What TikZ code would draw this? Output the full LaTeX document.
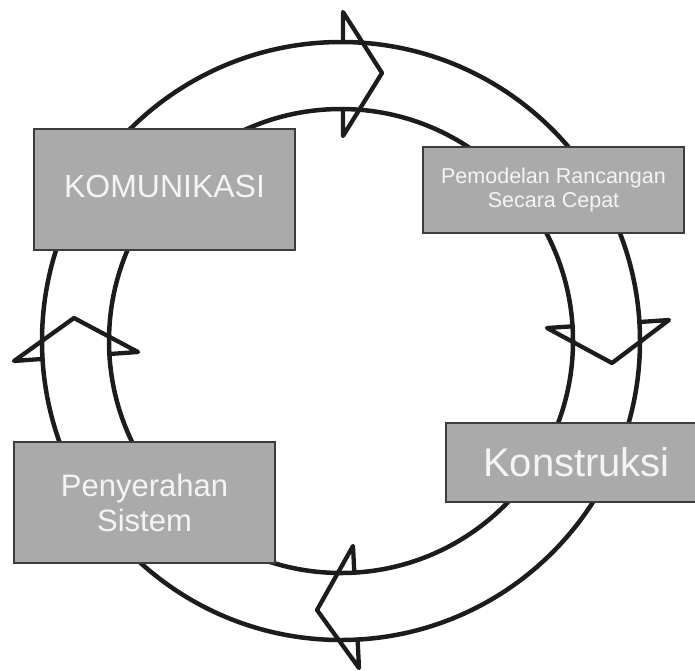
\documentclass[tikz,border=0pt]{standalone}
\usepackage{fontspec}
\setmainfont{Liberation Sans}
\definecolor{boxgray}{RGB}{170,170,170}
\definecolor{boxedge}{RGB}{60,60,60}
\definecolor{ink}{RGB}{28,28,28}
\definecolor{txt}{RGB}{244,244,244}
\begin{document}
\begin{tikzpicture}[x=1pt,y=-1pt,
  ring/.style={draw=ink,line width=4.5pt},
  flow/.style={draw=ink,line width=4.3pt,line join=round,line cap=round},
  stage/.style={rectangle,fill=boxgray,draw=boxedge,line width=1.8pt,inner sep=0pt,
    text=txt,align=center,minimum width=261pt}]
\useasboundingbox (0,0) rectangle (695,670);
\clip (0,0) rectangle (695,670);
% ring
\coordinate (c) at (341,341);
\draw[ring] (c) circle[radius=299pt];
\draw[ring] (c) circle[radius=232pt];
% flow arrows (clockwise)
\draw[flow] (343,42) -- (343,12) -- (382,73) -- (343,136) -- (343,109);
\draw[flow] (573,326.3) -- (547,328) -- (612,363) -- (669,320) -- (639.5,322);
\draw[flow] (357.6,639.5) -- (359,668) -- (317,610) -- (353,546) -- (354.3,572.5);
\draw[flow] (109.5,354) -- (138,352) -- (74,318) -- (14,361) -- (42.5,358.9);
% stages
\node[stage, minimum height=121pt, text depth=6pt, font=\fontsize{32}{38}\selectfont] (kom) at (164.5,189.5) {KOMUNIKASI};
\node[stage, minimum height=86pt, font=\fontsize{21.5}{23.5}\selectfont] (pem) at (553.5,190) {Pemodelan Rancangan\\Secara Cepat};
\node[stage, minimum height=79pt, font=\fontsize{40}{48}\selectfont] (kon) at (576.5,462.5) {Konstruksi};
\node[stage, minimum height=121pt, font=\fontsize{31}{35}\selectfont] (pen) at (144.5,502.5) {Penyerahan\\Sistem};
\end{tikzpicture}
\end{document}
